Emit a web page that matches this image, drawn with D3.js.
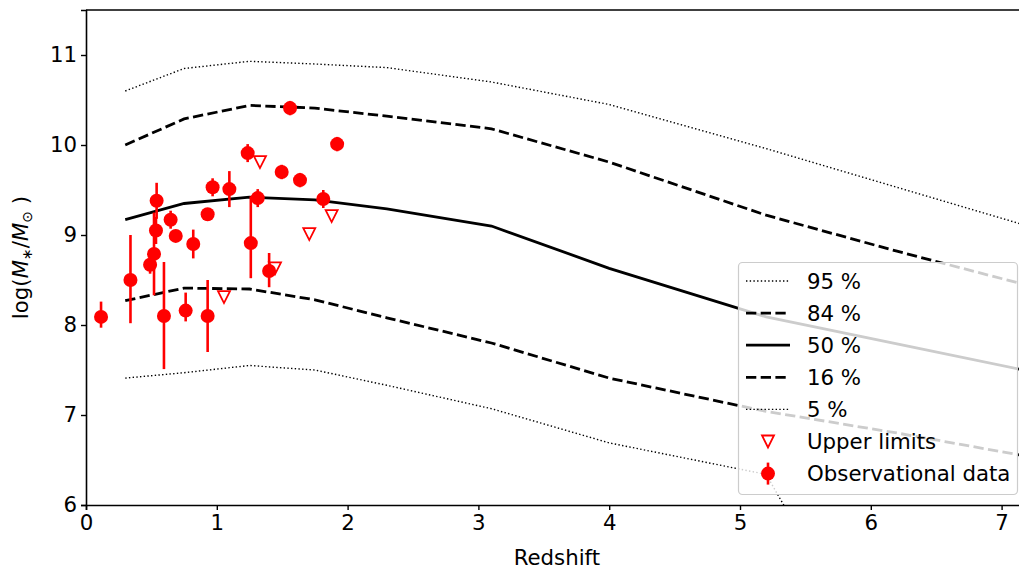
<!DOCTYPE html>
<html>
<head>
<meta charset="utf-8">
<script src="https://cdn.jsdelivr.net/npm/d3@7"></script>
<style>
  body { margin: 0; background: #fff; }
  svg { display: block; font-family: "DejaVu Sans", sans-serif; }
</style>
</head>
<body>
<svg id="chart"></svg>
<script>
// percentile curves, sampled at these redshifts
var zGrid = [0.3, 0.75, 1.25, 1.75, 2.3, 3.1, 4.0, 5.2, 6.2, 7.2]
var p95 = [10.60, 10.85, 10.93, 10.90, 10.86, 10.70, 10.45, 9.96, 9.53, 9.10]
var p84 = [10.00, 10.29, 10.44, 10.41, 10.32, 10.18, 9.81, 9.22, 8.82, 8.44]
var p50 = [9.17, 9.35, 9.42, 9.39, 9.29, 9.10, 8.63, 8.09, 7.79, 7.49]
var p16 = [8.27, 8.41, 8.40, 8.28, 8.08, 7.80, 7.41, 7.04, 6.80, 6.54]
var p05 = [7.41, 7.47, 7.55, 7.50, 7.33, 7.07, 6.69, 6.34, 3.80, 3.00]

// observational data with errors
var obsZ = [0.115, 0.34, 0.49, 0.52, 0.535, 0.54, 0.596, 0.647, 0.686, 0.762, 0.82, 0.93, 0.93, 0.968, 1.096, 1.236, 1.26, 1.313, 1.40, 1.496, 1.56, 1.636, 1.814, 1.92]
var obsM = [8.09, 8.50, 8.67, 8.79, 9.05, 9.38, 8.10, 9.17, 8.99, 8.16, 8.90, 9.23, 8.10, 9.53, 9.51, 9.91, 8.91, 9.41, 8.60, 9.70, 10.41, 9.61, 9.40, 10.01]
var obsErrLo = [0.12, 0.48, 0.10, 0.46, 0.15, 0.20, 0.59, 0.10, 0.05, 0.12, 0.16, 0.05, 0.40, 0.10, 0.20, 0.10, 0.39, 0.10, 0.18, 0.08, 0.08, 0.08, 0.10, 0.08]
var obsErrHi = [0.17, 0.50, 0.10, 0.46, 0.15, 0.20, 0.60, 0.10, 0.05, 0.20, 0.16, 0.05, 0.40, 0.10, 0.20, 0.10, 0.52, 0.10, 0.20, 0.08, 0.08, 0.08, 0.10, 0.08]

// upper limits
var limZ = [1.055, 1.33, 1.445, 1.707, 1.878]
var limM = [8.31, 9.81, 8.63, 9.01, 9.21]

var xTicks = [0, 1, 2, 3, 4, 5, 6, 7]
var yTicks = [6, 7, 8, 9, 10, 11]

var dimensions = {
    width: 1019,
    height: 570,
    margin: { top: 10, bottom: 65, left: 86 }
}

var fontSize = "21.3px"
var red = "#ff0000"

var svg = d3.select("#chart")
    .attr("width", dimensions.width)
    .attr("height", dimensions.height)

var plotBottom = dimensions.height - dimensions.margin.bottom

var xScale = d3.scaleLinear()
    .domain([0, 7.2])
    .range([dimensions.margin.left, dimensions.margin.left + 130.8 * 7.2])

var yScale = d3.scaleLinear()
    .domain([6, 11.5])
    .range([plotBottom, dimensions.margin.top])

svg.append("clipPath")
    .attr("id", "plot-clip")
    .append("rect")
    .attr("x", xScale(0))
    .attr("y", yScale(11.5))
    .attr("width", xScale(7.2) - xScale(0))
    .attr("height", yScale(6) - yScale(11.5))

var plot = svg.append("g").attr("clip-path", "url(#plot-clip)")

var lineStyles = [
    { label: "95 %", values: p95, width: 1.4, dash: "1.4,2.3" },
    { label: "84 %", values: p84, width: 2.8, dash: "10.3,4.4" },
    { label: "50 %", values: p50, width: 2.8, dash: null },
    { label: "16 %", values: p16, width: 2.8, dash: "10.3,4.4" },
    { label: "5 %", values: p05, width: 1.4, dash: "1.4,2.3" }
]

var line = d3.line()
    .x(function (d) { return xScale(d[0]) })
    .y(function (d) { return yScale(d[1]) })

lineStyles.forEach(function (s) {
    plot.append("path")
        .attr("fill", "none")
        .attr("stroke", "#000")
        .attr("stroke-width", s.width)
        .attr("stroke-dasharray", s.dash)
        .attr("d", line(zGrid.map(function (z, i) { return [z, s.values[i]] })))
})

var triangle = "M-6,-6L6,-6L0,6Z"

plot.selectAll(".limit")
    .data(limZ)
    .enter()
    .append("path")
    .attr("class", "limit")
    .attr("transform", function (d, i) { return "translate(" + xScale(d) + "," + yScale(limM[i]) + ")" })
    .attr("d", triangle)
    .attr("fill", "none")
    .attr("stroke", red)
    .attr("stroke-width", 1.8)

var obs = obsZ.map(function (z, i) {
    return { z: z, m: obsM[i], lo: obsErrLo[i], hi: obsErrHi[i] }
})

plot.selectAll(".errbar")
    .data(obs)
    .enter()
    .append("line")
    .attr("class", "errbar")
    .attr("x1", function (d) { return xScale(d.z) })
    .attr("x2", function (d) { return xScale(d.z) })
    .attr("y1", function (d) { return yScale(d.m - d.lo) })
    .attr("y2", function (d) { return yScale(d.m + d.hi) })
    .attr("stroke", red)
    .attr("stroke-width", 2.6)

plot.selectAll(".obs")
    .data(obs)
    .enter()
    .append("circle")
    .attr("class", "obs")
    .attr("cx", function (d) { return xScale(d.z) })
    .attr("cy", function (d) { return yScale(d.m) })
    .attr("r", 7)
    .attr("fill", red)

// axes
var xAxis = d3.axisBottom(xScale).tickValues(xTicks).tickFormat(d3.format("d")).tickSize(5).tickPadding(5)
var yAxis = d3.axisLeft(yScale).tickValues(yTicks).tickFormat(d3.format("d")).tickSize(5).tickPadding(4)

var gx = svg.append("g")
    .attr("transform", "translate(0," + plotBottom + ")")
    .call(xAxis)
var gy = svg.append("g")
    .attr("transform", "translate(" + dimensions.margin.left + ",0)")
    .call(yAxis)

;[gx, gy].forEach(function (g) {
    g.select(".domain").attr("stroke-width", 1.6)
    g.selectAll(".tick line").attr("stroke-width", 1.4)
    g.selectAll("text")
        .attr("fill", "#000")
        .style("font-size", fontSize)
        .style("font-family", "DejaVu Sans")
})

svg.append("line")
    .attr("x1", xScale(0))
    .attr("x2", xScale(7.2))
    .attr("y1", yScale(11.5))
    .attr("y2", yScale(11.5))
    .attr("stroke", "#000")
    .attr("stroke-width", 1.6)

svg.append("text")
    .attr("x", (xScale(0) + xScale(7.2)) / 2)
    .attr("y", 565)
    .attr("text-anchor", "middle")
    .style("font-size", fontSize)
    .text("Redshift")

var ylab = svg.append("text")
    .attr("transform", "translate(28," + (yScale(6) + yScale(11.5)) / 2 + ") rotate(-90)")
    .attr("text-anchor", "middle")
    .style("font-size", fontSize)
ylab.append("tspan").text("log(")
ylab.append("tspan").attr("font-style", "italic").text("M")
ylab.append("tspan").attr("font-size", "14px").attr("dy", 4).text("∗")
ylab.append("tspan").attr("dy", -4).text("/")
ylab.append("tspan").attr("font-style", "italic").text("M")
ylab.append("tspan").attr("font-size", "14px").attr("dy", 4).text("⊙")
ylab.append("tspan").attr("dy", -4).text(" )")

// legend
var legend = svg.append("g")

legend.append("rect")
    .attr("x", 738.5)
    .attr("y", 262.5)
    .attr("width", 279)
    .attr("height", 232)
    .attr("rx", 4)
    .attr("fill", "#fff")
    .attr("fill-opacity", 0.8)
    .attr("stroke", "#cccccc")
    .attr("stroke-width", 1.2)

var rowY = function (i) { return 281 + i * 32.1 }

lineStyles.forEach(function (s, i) {
    legend.append("line")
        .attr("x1", 746)
        .attr("x2", 790)
        .attr("y1", rowY(i))
        .attr("y2", rowY(i))
        .attr("stroke", "#000")
        .attr("stroke-width", s.width)
        .attr("stroke-dasharray", s.dash)
})

legend.append("path")
    .attr("transform", "translate(768," + rowY(5) + ")")
    .attr("d", triangle)
    .attr("fill", "none")
    .attr("stroke", red)
    .attr("stroke-width", 1.8)

legend.append("line")
    .attr("x1", 768)
    .attr("x2", 768)
    .attr("y1", rowY(6) - 11)
    .attr("y2", rowY(6) + 11)
    .attr("stroke", red)
    .attr("stroke-width", 2.6)
legend.append("circle")
    .attr("cx", 768)
    .attr("cy", rowY(6))
    .attr("r", 7)
    .attr("fill", red)

var legendLabels = lineStyles.map(function (s) { return s.label }).concat(["Upper limits", "Observational data"])

legend.selectAll(".legend-label")
    .data(legendLabels)
    .enter()
    .append("text")
    .attr("class", "legend-label")
    .attr("x", 807)
    .attr("y", function (d, i) { return rowY(i) })
    .attr("dy", "0.36em")
    .style("font-size", fontSize)
    .text(function (d) { return d })
</script>
</body>
</html>
